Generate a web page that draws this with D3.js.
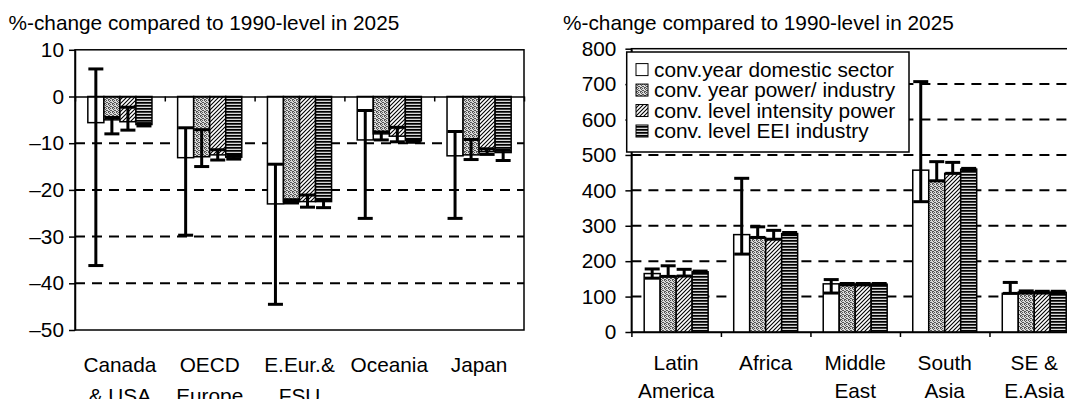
<!DOCTYPE html>
<html>
<head>
<meta charset="utf-8">
<script src="https://cdn.jsdelivr.net/npm/d3@7"></script>
<style>
  html, body { margin: 0; padding: 0; background: #fff; }
  svg { display: block; font-family: "Liberation Sans", Arial, sans-serif; }
</style>
</head>
<body>
<svg id="chart" width="1067" height="399"></svg>
<script>
// ---- data -------------------------------------------------------------
const seriesNames = [
  "conv.year domestic sector",
  "conv. year power/ industry",
  "conv. level intensity power",
  "conv. level EEI industry"
];
const titleText = "%-change compared to 1990-level in 2025";

// Industrialised regions (left panel); each label is split into lines
const industrialRegions = [["Canada", "& USA"], ["OECD", "Europe"], ["E.Eur.&", "FSU"], ["Oceania"], ["Japan"]];
const industrialTicks = [10, 0, -10, -20, -30, -40, -50];

const indDomestic     = [-5.6, -13.1, -23.0, -9.3, -12.7];
const indDomesticLow  = [-36.2, -29.7, -44.5, -26.1, -26.1];
const indDomesticHigh = [5.9, -6.7, -14.5, -3.0, -7.5];

const indPower     = [-5.0, -12.9, -22.5, -8.0, -12.5];
const indPowerLow  = [-8.0, -15.0, -22.8, -9.3, -13.5];
const indPowerHigh = [-4.5, -7.1, -22.1, -7.6, -9.2];

const indIntensity     = [-5.4, -12.5, -22.5, -8.5, -11.8];
const indIntensityLow  = [-7.2, -13.6, -23.7, -9.7, -12.4];
const indIntensityHigh = [-2.3, -11.4, -21.1, -6.6, -11.2];

const indEEI     = [-6.0, -13.0, -22.5, -9.5, -12.0];
const indEEILow  = [-6.3, -13.4, -23.8, -9.8, -13.7];
const indEEIHigh = [-5.8, -12.6, -22.2, -9.2, -11.5];

// Developing regions (right panel)
const developingRegions = [["Latin", "America"], ["Africa"], ["Middle", "East"], ["South", "Asia"], ["SE &", "E.Asia"]];
const developingTicks = [800, 700, 600, 500, 400, 300, 200, 100, 0];

const devDomestic     = [165, 275, 136, 457, 109];
const devDomesticLow  = [152, 220, 110, 368, 109];
const devDomesticHigh = [178, 434, 148, 707, 140];

const devPower     = [157, 267, 135, 427, 113];
const devPowerLow  = [157, 267, 133, 427, 110];
const devPowerHigh = [187, 297, 137, 481, 116];

const devIntensity     = [158, 262, 135, 448, 112];
const devIntensityLow  = [158, 262, 133, 448, 110];
const devIntensityHigh = [177, 287, 137, 479, 115];

const devEEI     = [170, 278, 135, 460, 112];
const devEEILow  = [168, 275, 133, 458, 110];
const devEEIHigh = [172, 281, 137, 462, 115];

// ---- drawing ----------------------------------------------------------
const svg = d3.select("#chart");
const FONT = "20.8px";
const fills = ["#fff", "url(#pat-stipple)", "url(#pat-hatch)", "url(#pat-stripe)"];

// fill patterns
const defs = svg.append("defs");
const stip = defs.append("pattern").attr("id", "pat-stipple")
  .attr("width", 4).attr("height", 4).attr("patternUnits", "userSpaceOnUse");
stip.append("rect").attr("width", 4).attr("height", 4).attr("fill", "#dadada");
[[0,0],[2,0],[1,1],[3,2],[0,3],[2,2],[1,3]].forEach(([px, py]) =>
  stip.append("rect").attr("x", px).attr("y", py).attr("width", 1).attr("height", 1).attr("fill", "#555"));

const hatch = defs.append("pattern").attr("id", "pat-hatch")
  .attr("width", 4).attr("height", 4).attr("patternUnits", "userSpaceOnUse");
hatch.append("rect").attr("width", 4).attr("height", 4).attr("fill", "#fff");
hatch.append("path").attr("d", "M-1,1 L1,-1 M0,4 L4,0 M3,5 L5,3")
  .attr("stroke", "#000").attr("stroke-width", 1.1);

const stripe = defs.append("pattern").attr("id", "pat-stripe")
  .attr("width", 4).attr("height", 3).attr("patternUnits", "userSpaceOnUse");
stripe.append("rect").attr("width", 4).attr("height", 3).attr("fill", "#d8d8d8");
stripe.append("rect").attr("y", 0).attr("width", 4).attr("height", 1).attr("fill", "#000");
stripe.append("rect").attr("y", 1).attr("width", 4).attr("height", 1).attr("fill", "#404040");

function buildRows(values, lows, highs) {
  // one row per (category, series)
  const rows = [];
  values.forEach((vals, s) => vals.forEach((v, c) =>
    rows.push({ s, c, v, lo: lows[s][c], hi: highs[s][c] })));
  return rows;
}

function drawPanel(cfg) {
  const g = svg.append("g");
  const x0 = d3.scaleBand().domain(d3.range(cfg.categories.length)).range([cfg.left, cfg.right]);
  const x1 = d3.scaleBand().domain(d3.range(seriesNames.length))
    .range([0, x0.bandwidth()]).paddingOuter(0.8);
  const y = d3.scaleLinear().domain(cfg.domain).range([cfg.bottom, cfg.top]);
  const slot = d3.scaleLinear().domain([0, cfg.categories.length]).range([cfg.left, cfg.right]);

  // title
  g.append("text").attr("x", cfg.titleX).attr("y", 30)
    .attr("font-size", FONT).attr("fill", "#000").text(titleText);

  // dashed gridlines
  g.append("g").selectAll("line").data(cfg.grid).join("line")
    .attr("x1", cfg.left).attr("x2", cfg.right)
    .attr("y1", d => y(d)).attr("y2", d => y(d))
    .attr("stroke", "#000").attr("stroke-width", 2).attr("stroke-dasharray", "10,7");

  // plot frame
  g.append("rect").attr("x", cfg.left).attr("y", y(cfg.domain[1]))
    .attr("width", cfg.right - cfg.left).attr("height", y(cfg.domain[0]) - y(cfg.domain[1]))
    .attr("fill", "none").attr("stroke", "#000").attr("stroke-width", 1.5);

  const rows = buildRows(cfg.values, cfg.lows, cfg.highs);

  // bars
  g.append("g").selectAll("rect").data(rows).join("rect")
    .attr("x", d => x0(d.c) + x1(d.s))
    .attr("width", x1.bandwidth())
    .attr("y", d => y(Math.max(0, d.v)))
    .attr("height", d => Math.abs(y(d.v) - y(0)))
    .attr("fill", d => fills[d.s])
    .attr("stroke", "#000").attr("stroke-width", 1.5);

  // error bars
  const cap = 7.5;
  const eb = g.append("g").attr("stroke", "#000").attr("stroke-width", 3);
  const cx = d => x0(d.c) + x1(d.s) + x1.bandwidth() / 2;
  eb.selectAll("line.stem").data(rows).join("line").attr("class", "stem")
    .attr("x1", cx).attr("x2", cx).attr("y1", d => y(d.lo)).attr("y2", d => y(d.hi));
  eb.selectAll("line.capLo").data(rows).join("line").attr("class", "capLo")
    .attr("x1", d => cx(d) - cap).attr("x2", d => cx(d) + cap)
    .attr("y1", d => y(d.lo)).attr("y2", d => y(d.lo));
  eb.selectAll("line.capHi").data(rows).join("line").attr("class", "capHi")
    .attr("x1", d => cx(d) - cap).attr("x2", d => cx(d) + cap)
    .attr("y1", d => y(d.hi)).attr("y2", d => y(d.hi));

  // category axis on the zero line, ticks between groups
  const xAxis = g.append("g").attr("transform", `translate(0,${y(0)})`)
    .call(d3.axisBottom(slot).tickValues(d3.range(cfg.categories.length + 1))
      .tickFormat("").tickSize(5).tickSizeOuter(0));
  xAxis.selectAll("path,line").attr("stroke", "#000").attr("stroke-width", 1.5);

  // value axis
  const yAxis = g.append("g").attr("transform", `translate(${cfg.left},0)`)
    .call(d3.axisLeft(y).tickValues(cfg.ticks).tickSize(6).tickSizeOuter(0)
      .tickPadding(cfg.tickPad)
      .tickFormat(d => d < 0 ? "\u2013" + Math.abs(d) : String(d)));
  yAxis.selectAll("path,line").attr("stroke", "#000").attr("stroke-width", 1.5);
  yAxis.selectAll("text").attr("font-size", FONT).attr("font-family", null).attr("fill", "#000");

  // category labels
  const lab = g.append("g").attr("font-size", FONT).attr("text-anchor", "middle").attr("fill", "#000");
  cfg.categories.forEach((lines, i) => {
    lines.forEach((t, k) => {
      lab.append("text")
        .attr("x", x0(i) + x0.bandwidth() / 2)
        .attr("y", cfg.labelY[k])
        .text(t);
    });
  });
  return { x0, x1, y };
}

drawPanel({
  categories: industrialRegions,
  values: [indDomestic, indPower, indIntensity, indEEI],
  lows: [indDomesticLow, indPowerLow, indIntensityLow, indEEILow],
  highs: [indDomesticHigh, indPowerHigh, indIntensityHigh, indEEIHigh],
  ticks: industrialTicks,
  grid: [-10, -20, -30, -40],
  domain: [-50, 10],
  left: 75, right: 524, top: 49.8, bottom: 330,
  titleX: 8.5, tickPad: 5,
  labelY: [372, 403]
});

drawPanel({
  categories: developingRegions,
  values: [devDomestic, devPower, devIntensity, devEEI],
  lows: [devDomesticLow, devPowerLow, devIntensityLow, devEEILow],
  highs: [devDomesticHigh, devPowerHigh, devIntensityHigh, devEEIHigh],
  ticks: developingTicks,
  grid: [100, 200, 300, 400, 500, 600, 700],
  domain: [0, 800],
  left: 631.4, right: 1079, top: 48.7, bottom: 332,
  titleX: 563, tickPad: 9,
  labelY: [370, 398]
});

// legend for the right panel
const legend = svg.append("g");
legend.append("rect").attr("x", 626.7).attr("y", 52).attr("width", 282.3).attr("height", 100)
  .attr("fill", "#fff").attr("stroke", "#000").attr("stroke-width", 1.5);
const rowY = d3.scalePoint().domain(d3.range(seriesNames.length)).range([69.6, 131]);
seriesNames.forEach((name, i) => {
  legend.append("rect").attr("x", 636).attr("y", rowY(i) - 6).attr("width", 12).attr("height", 12)
    .attr("fill", fills[i]).attr("stroke", "#000").attr("stroke-width", 1);
  legend.append("text").attr("x", 654).attr("y", rowY(i)).attr("dy", "0.35em")
    .attr("font-size", FONT).attr("fill", "#000").text(name);
});
</script>
</body>
</html>
